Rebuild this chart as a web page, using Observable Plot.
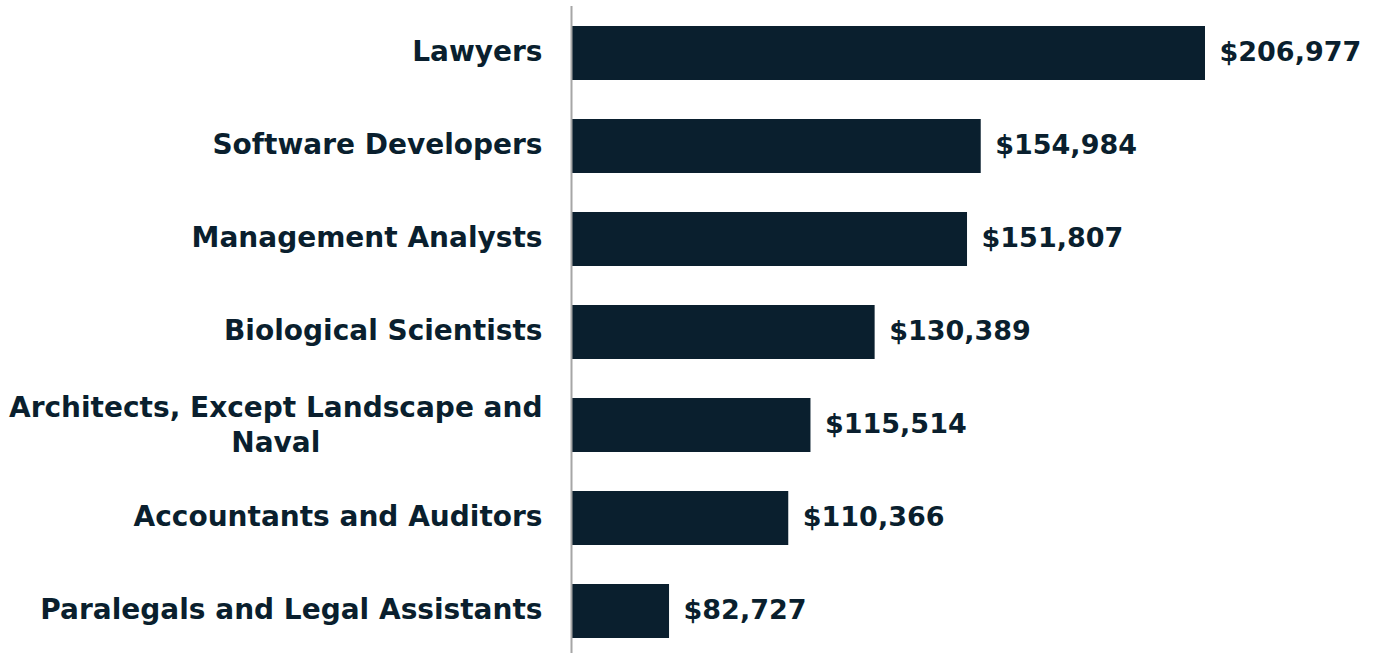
<!DOCTYPE html>
<html>
<head>
<meta charset="utf-8">
<script src="https://cdn.jsdelivr.net/npm/d3@7"></script>
<script src="https://cdn.jsdelivr.net/npm/@observablehq/plot@0.6"></script>
<style>
  html, body { margin: 0; padding: 0; background: #ffffff; }
  #chart svg { display: block; }
</style>
</head>
<body>
<div id="chart"></div>
<script>
const categories = [
  "Lawyers",
  "Software Developers",
  "Management Analysts",
  "Biological Scientists",
  "Architects, Except Landscape and\nNaval",
  "Accountants and Auditors",
  "Paralegals and Legal Assistants"
];
const values = [206977, 154984, 151807, 130389, 115514, 110366, 82727];

const data = categories.map((c, i) => ({category: c, value: values[i]}));

const FONT = "DejaVu Sans";
const FS_LABEL = 28;
const FS_VALUE = 27;
const COLOR = "#0a1f2e";
const BASE = 60000;
const GAP = 29;

const ctx = document.createElement("canvas").getContext("2d");
ctx.font = `bold ${FS_LABEL}px "${FONT}"`;
const lineW = s => Math.max(...s.split("\n").map(l => ctx.measureText(l).width));

const single = data.filter(d => !d.category.includes("\n"));
const multi = data.filter(d => d.category.includes("\n"));
const fmt = d3.format(",");

const chart = Plot.plot({
  width: 1373,
  height: 653,
  marginTop: 6,
  marginBottom: 0,
  marginLeft: 0,
  marginRight: 0,
  style: {fontFamily: FONT, background: "#ffffff"},
  x: {domain: [BASE, 206977], range: [571, 1205], axis: null},
  y: {domain: categories, range: [25, 639], paddingInner: 0.42, paddingOuter: 0, axis: null},
  marks: [
    Plot.barX(data, {x1: BASE, x2: "value", y: "category", fill: COLOR}),
    Plot.ruleX([BASE], {stroke: "#a6a6a6", strokeWidth: 2}),
    Plot.text(single, {
      x: BASE, y: "category", text: "category",
      textAnchor: "end", dx: -GAP, dy: -1,
      fontSize: FS_LABEL, fontWeight: "bold", fill: COLOR
    }),
    ...multi.map(d => Plot.text([d], {
      x: BASE, y: "category", text: "category",
      textAnchor: "middle", dx: -GAP - lineW(d.category) / 2, dy: -2,
      lineHeight: 1.25,
      fontSize: FS_LABEL, fontWeight: "bold", fill: COLOR
    })),
    Plot.text(data, {
      x: "value", y: "category", text: d => "$" + fmt(d.value),
      textAnchor: "start", dx: 14, dy: -1,
      fontSize: FS_VALUE, fontWeight: "bold", fill: COLOR
    })
  ]
});
document.getElementById("chart").appendChild(chart);
</script>
</body>
</html>
